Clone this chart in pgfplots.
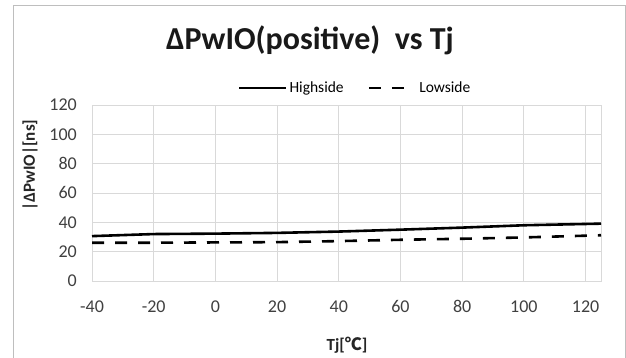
\documentclass[border=0pt]{standalone}
\usepackage{pgfplots}
\pgfplotsset{compat=1.18}
\usepackage{fontspec}
\setmainfont{Carlito}
\newfontfamily\cjk{Noto Sans CJK SC}
\definecolor{gridc}{RGB}{217,217,217}
\definecolor{framec}{RGB}{190,190,190}
\definecolor{tickc}{RGB}{64,64,64}
\begin{document}
\begin{tikzpicture}
\useasboundingbox (0pt,0pt) rectangle (626pt,358pt);
\fill[white] (0pt,0pt) rectangle (626pt,358pt);
\draw[framec, line width=1pt] (13pt,-2pt) -- (13pt,352pt) -- (625pt,352pt) -- (625pt,-2pt);
\begin{axis}[
  at={(92pt,77pt)}, anchor=south west,
  scale only axis, width=509pt, height=176pt,
  xmin=-40, xmax=125, ymin=0, ymax=120,
  xtick={-40,-20,0,20,40,60,80,100,120},
  ytick={0,20,40,60,80,100,120},
  grid=major,
  major grid style={gridc, line width=0.8pt},
  axis line style={gridc, line width=0.8pt},
  tick style={draw=none},
  tick label style={font=\fontsize{18}{20}\selectfont, text=tickc, text height=11.5pt, text depth=0pt, inner sep=0pt},
  /pgf/number format/assume math mode=true,
  yticklabel style={xshift=-15pt},
  xticklabel style={yshift=-20pt},
  legend style={at={(0.517,1.097)}, anchor=center, draw=none, fill=none,
    font=\fontsize{15.5}{17}\selectfont, legend columns=2,
    /tikz/every even column/.append style={column sep=22pt},
    inner sep=0pt},
  legend image code/.code={\draw[#1] (0pt,0pt) -- (47pt,0pt);},
  clip=false,
]
\addplot[black, line width=2.6pt] coordinates {
(-40,30.6) (-20,32.0) (0,32.3) (20,32.8) (40,33.7) (60,35.0) (80,36.4) (100,38.0) (125,39.1)};
\addlegendentry{Highside}
\addplot[black, line width=2.6pt, dash pattern=on 12pt off 11pt,
  legend image code/.code={\draw[black, line width=2.6pt] (0pt,0pt) -- (12pt,0pt) (23pt,0pt) -- (35pt,0pt); \path (47pt,0pt);}] coordinates {
(-40,26.1) (-20,26.1) (0,26.3) (20,26.5) (40,27.2) (60,28.1) (80,28.8) (100,29.7) (125,31.2)};
\addlegendentry{Lowside}
\end{axis}
\node[font=\bfseries\fontsize{32}{34}\selectfont, text=black!90] at (310pt,318pt) {ΔPwIO(positive)\ \ vs Tj};
\node[font=\bfseries\fontsize{17}{19}\selectfont, rotate=90, text=black!85] at (30pt,193pt) {|ΔPwIO|[ns]};
\node[font=\bfseries\fontsize{17}{19}\selectfont, text=black!85] at (347pt,13pt) {Tj[{\cjk ℃}]};
\end{tikzpicture}
\end{document}
